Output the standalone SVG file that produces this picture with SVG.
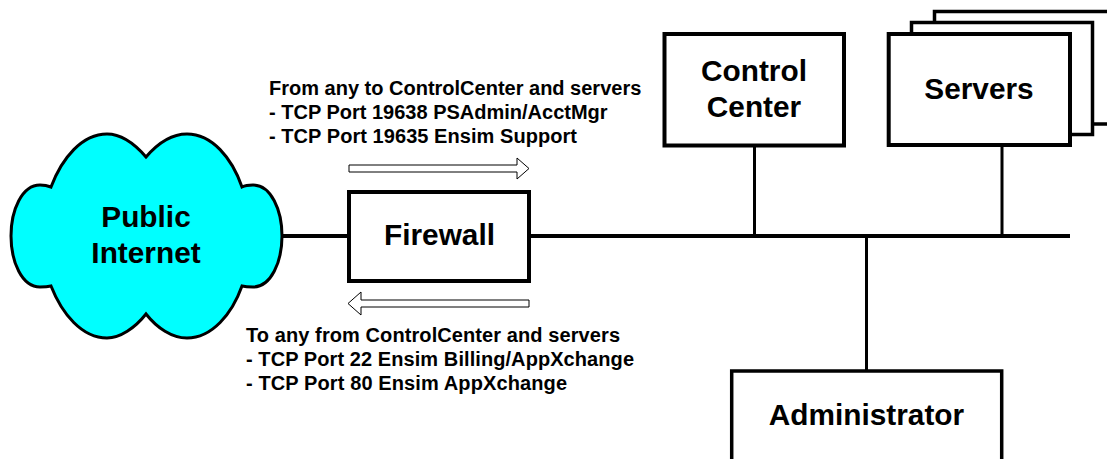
<svg xmlns="http://www.w3.org/2000/svg" width="1107" height="459" viewBox="0 0 1107 459">
<style>
text{font-family:"Liberation Sans",Arial,sans-serif;font-weight:700;fill:#000}
.t{font-size:29.800px;text-anchor:middle}
.s{font-size:20px}
.b{fill:#fff;stroke:#000;stroke-width:4}
.m{fill:#fff;stroke:#000;stroke-width:3.500}
.c{fill:none;stroke:#000;stroke-width:4}
.c2{fill:none;stroke:#000;stroke-width:3}
.a{fill:#fff;stroke:#000;stroke-width:1}
</style>
<rect width="1107" height="459" fill="#fff"/>
<g id="connectors">
<path class="c" d="M282 236H349M529 236H1070"/>
<path class="c2" d="M754.500 145V236M1002 145V236M866.500 236V371"/>
</g>
<g id="cloud">
<path d="M146 157C134 143 120 134 107 134C82 134 62 158 51 187C46 185 43 185 40 185C22 185 11 210 11 236C11 262 22 287 40 287C43 287 47 287 51 286C62 314 82 338 107 338C120 338 135 328 146 314C157 328 172 338 187 338C212 338 232 314 242 286C246 287 250 287 253 287C271 287 282 262 282 236C282 210 271 185 253 185C250 185 246 185 242 187C232 158 212 134 187 134C172 134 158 143 146 157Z" fill="#0ff" stroke="#000" stroke-width="3"/>
<text class="t" x="146" y="227">Public</text>
<text class="t" x="146" y="263">Internet</text>
</g>
<g id="firewall">
<rect class="b" x="349" y="192" width="180" height="89"/>
<text class="t" x="439.500" y="245">Firewall</text>
</g>
<g id="control-center">
<rect class="b" x="664.500" y="34" width="179.500" height="111.500"/>
<text class="t" x="754" y="81">Control</text>
<text class="t" x="754" y="117">Center</text>
</g>
<g id="servers">
<path class="m" d="M1107 11.500H934.500V124H1107"/>
<rect class="m" x="911.500" y="22.500" width="181" height="112"/>
<rect class="b" x="888.700" y="34" width="181.300" height="111"/>
<text class="t" x="979" y="99">Servers</text>
</g>
<g id="administrator">
<path class="m" d="M731.700 459V371H1001.700V459"/>
<text class="t" x="866.500" y="425">Administrator</text>
</g>
<g id="inbound">
<path class="a" d="M349 165H517V158L529 168.500L517 179V172H349Z"/>
<text class="s" x="269" y="95">From any to ControlCenter and servers</text>
<text class="s" x="269" y="119">- TCP Port 19638 PSAdmin/AcctMgr</text>
<text class="s" x="269" y="143" textLength="308">- TCP Port 19635 Ensim Support</text>
</g>
<g id="outbound">
<path class="a" d="M529 300H361V292L348 303.500L361 315V307H529Z"/>
<text class="s" x="246" y="342" textLength="374">To any from ControlCenter and servers</text>
<text class="s" x="246" y="366" textLength="388">- TCP Port 22 Ensim Billing/AppXchange</text>
<text class="s" x="246" y="390" textLength="321">- TCP Port 80 Ensim AppXchange</text>
</g>
</svg>
